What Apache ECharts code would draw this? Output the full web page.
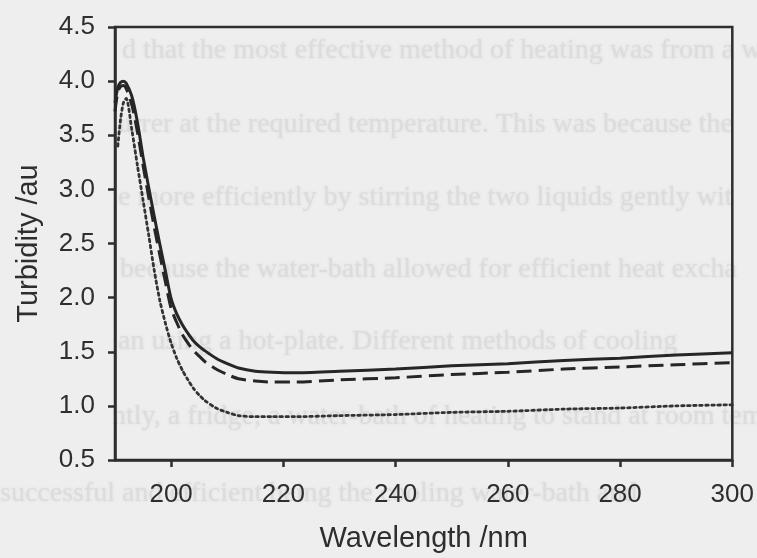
<!DOCTYPE html>
<html>
<head>
<meta charset="utf-8">
<script src="https://cdn.jsdelivr.net/npm/echarts@6/dist/echarts.min.js"></script>
<style>html,body{margin:0;padding:0;background:#eeeeee;}#c{width:757px;height:558px;}</style>
</head>
<body>
<div id="c"></div>
<script>
const wavelength = [190,190.5,191,191.5,192,193,194,195,196,197,198,199,200,201,202,203,204,205,206,208,210,212,215,218,222,230,240,250,260,270,280,290,300];
const solid  = [3.80,3.94,3.99,4.00,3.98,3.86,3.62,3.30,3.02,2.75,2.49,2.24,1.99,1.85,1.75,1.67,1.60,1.55,1.51,1.44,1.39,1.35,1.32,1.31,1.305,1.32,1.34,1.37,1.39,1.42,1.44,1.47,1.49];
const dashed = [3.72,3.90,3.95,3.96,3.93,3.78,3.53,3.22,2.93,2.65,2.39,2.14,1.90,1.77,1.66,1.58,1.51,1.46,1.41,1.34,1.29,1.25,1.23,1.22,1.22,1.24,1.26,1.29,1.31,1.34,1.36,1.38,1.40];
const dotted = [null,3.40,3.65,3.80,3.84,3.55,3.22,2.90,2.58,2.25,1.97,1.76,1.58,1.44,1.33,1.24,1.16,1.10,1.05,0.98,0.94,0.91,0.90,0.90,0.90,0.91,0.92,0.94,0.95,0.97,0.98,1.00,1.01];
const xTicks = [200,220,240,260,280,300];
const yTicks = [0.5,1.0,1.5,2.0,2.5,3.0,3.5,4.0,4.5];
const bgLines = [
  "d that the most effective method of heating was from a wa",
  "urrer at the required temperature. This was because the",
  "e more efficiently by stirring the two liquids gently wit",
  "because the water-bath allowed for efficient heat excha",
  "an using a hot-plate. Different methods of cooling",
  "ntly, a fridge, a water-bath of heating to stand at room temp",
  "successful and efficient being the cooling water-bath and"
];
const bgLineX = [122,118,118,120,118,112,0];
const bgLineY = [52,126,199,271,343,418,495];

const pairs = arr => wavelength.map((w,i) => [w, arr[i]]);
const FONT = 'Liberation Sans, Arial, sans-serif';
const INK = '#2e2e2e';

const chart = echarts.init(document.getElementById('c'), null, {renderer:'canvas'});
chart.setOption({
  backgroundColor: '#eeeeee',
  animation: false,
  graphic: bgLines.map((t,i) => ({
    type: 'text', z: -10, silent: true,
    left: bgLineX[i], top: bgLineY[i] - 15,
    style: { text: t, fill: '#dcdcdc', font: '28px "Liberation Serif", serif', textShadowColor: '#dcdcdc', textShadowBlur: 3 }
  })),
  grid: { left: 115, right: 24, top: 27, bottom: 98, show: true, borderColor: INK, borderWidth: 2.5, backgroundColor: 'transparent' },
  xAxis: {
    type: 'value', min: 190, max: 300,
    name: 'Wavelength /nm', nameLocation: 'middle', nameGap: 64,
    nameTextStyle: { fontFamily: FONT, fontSize: 29, color: INK },
    axisLine: { show: true, lineStyle: { color: INK, width: 2.5 } },
    axisTick: { show: true, length: 7, inside: false, customValues: xTicks, lineStyle: { color: INK, width: 2.5 } },
    axisLabel: { customValues: xTicks, fontFamily: FONT, fontSize: 26, color: INK, margin: 22 },
    splitLine: { show: false }
  },
  yAxis: {
    type: 'value', min: 0.5, max: 4.5, interval: 0.5,
    name: 'Turbidity /au', nameLocation: 'middle', nameGap: 72, nameRotate: 90,
    nameTextStyle: { fontFamily: FONT, fontSize: 29, color: INK },
    axisLine: { show: true, lineStyle: { color: INK, width: 2.5 } },
    axisTick: { show: true, length: 7, inside: false, customValues: yTicks, lineStyle: { color: INK, width: 2.5 } },
    axisLabel: { customValues: yTicks, fontFamily: FONT, fontSize: 26, color: INK, margin: 20, formatter: v => v.toFixed(1) },
    splitLine: { show: false }
  },
  series: [
    { type: 'line', data: pairs(solid), smooth: 0.25, showSymbol: false, lineStyle: { color: '#262626', width: 3 } },
    { type: 'line', data: pairs(dashed), smooth: 0.25, showSymbol: false, lineStyle: { color: '#262626', width: 3, type: [15, 7] } },
    { type: 'line', data: pairs(dotted), smooth: 0.25, showSymbol: false, connectNulls: false, lineStyle: { color: '#333333', width: 2.8, type: [2.5, 3.5], cap: 'round' } }
  ]
});
</script>
</body>
</html>
